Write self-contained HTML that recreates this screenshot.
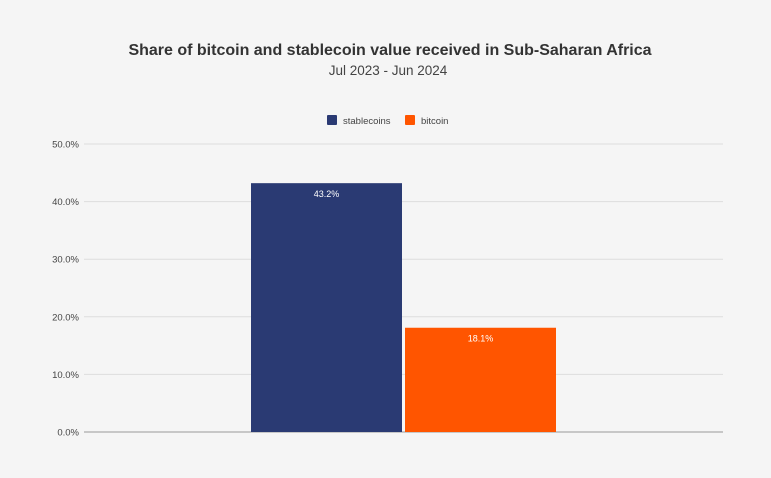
<!DOCTYPE html>
<html><head><meta charset="utf-8"><style>
body{margin:0;width:771px;height:473px;background:#f5f5f5;font-family:"Liberation Sans",sans-serif;overflow:hidden}
</style></head><body>
<svg width="771" height="473">
<rect width="771" height="473" fill="#f5f5f5"/>
<text x="390" y="55" text-anchor="middle" font-size="16" font-weight="bold" fill="#333">Share of bitcoin and stablecoin value received in Sub-Saharan Africa</text>
<text x="388" y="75" text-anchor="middle" font-size="13.5" fill="#444">Jul 2023 - Jun 2024</text>
<g>
<rect x="327" y="115" width="10" height="10" rx="1" fill="#2a3a73"/>
<text x="343" y="124" font-size="9.5" fill="#444">stablecoins</text>
<rect x="405" y="115" width="10" height="10" rx="1" fill="#ff5500"/>
<text x="421" y="124" font-size="9.5" fill="#444">bitcoin</text>
</g>
<g id="grid"></g>
<g id="bars"></g>
</svg>
<script>
const categories=["stablecoins","bitcoin"];
const values=[43.2,18.1];
const colors=["#2a3a73","#ff5500"];
const ticks=[0,10,20,30,40,50];
const tickLabels=["0.0%","10.0%","20.0%","30.0%","40.0%","50.0%"];
const NS="http://www.w3.org/2000/svg";
const x0=84,x1=723,yBase=432,yTop=144,vmax=50;
const y=v=>yBase-(v/vmax)*(yBase-yTop);
const barX=i=>251+i*154,barW=151;
const grid=document.getElementById('grid'),bars=document.getElementById('bars');
function mk(t,a){const e=document.createElementNS(NS,t);for(const k in a)e.setAttribute(k,a[k]);return e;}
ticks.forEach((t,i)=>{
 const l=mk('line',{x1:x0,x2:x1,y1:y(t),y2:y(t),stroke:t===0?'#999':'#ddd','stroke-width':1});
 
 
 grid.appendChild(l);
 const tx=mk('text',{x:79,y:y(t)+3.5,'text-anchor':'end','font-size':9.5,fill:'#444'});
 tx.textContent=tickLabels[i];
 
 
 grid.appendChild(tx);
});
values.forEach((v,i)=>{
 const r=mk('rect',{x:barX(i),y:y(v),width:barW,height:yBase-y(v),fill:colors[i]});
 
 
 bars.appendChild(r);
 const t=mk('text',{x:barX(i)+barW/2,y:y(v)+14,'text-anchor':'middle','font-size':9,fill:'#fff'});
 t.textContent=v.toFixed(1)+'%';
 
 
 bars.appendChild(t);
});
</script>
</body></html>
